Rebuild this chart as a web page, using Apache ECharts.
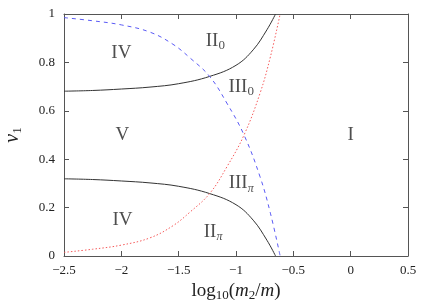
<!DOCTYPE html>
<html><head><meta charset="utf-8">
<script src="https://cdn.jsdelivr.net/npm/echarts@6/dist/echarts.min.js"></script>
<style>html,body{margin:0;padding:0;background:#fff}#c{width:436px;height:305px}</style>
</head><body><div id="c"></div>
<script>
// Black solid boundaries (upper and lower)
const blackUpperX = [-2.5, -2.25, -2.0, -1.75, -1.5, -1.23, -1.0, -0.85, -0.73, -0.655];
const blackUpperY = [0.681, 0.684, 0.690, 0.698, 0.712, 0.742, 0.788, 0.852, 0.935, 1.0];
const blackLowerX = [-2.5, -2.25, -2.0, -1.75, -1.5, -1.23, -1.0, -0.85, -0.73, -0.655];
const blackLowerY = [0.319, 0.316, 0.310, 0.302, 0.288, 0.258, 0.212, 0.148, 0.065, 0.0];
// Blue dashed
const blueX = [-2.5, -2.25, -2.0, -1.75, -1.55, -1.4, -1.23, -1.08, -0.93, -0.79, -0.70, -0.615];
const blueY = [0.985, 0.972, 0.955, 0.925, 0.875, 0.818, 0.742, 0.632, 0.50, 0.327, 0.177, 0.0];
// Red dotted
const redX = [-2.5, -2.25, -2.0, -1.75, -1.55, -1.4, -1.23, -1.08, -0.93, -0.79, -0.70, -0.615];
const redY = [0.015, 0.028, 0.045, 0.075, 0.125, 0.182, 0.258, 0.368, 0.50, 0.673, 0.823, 1.0];
// Region labels
const labelX = [-2.0, -1.18, -0.955, -1.99, 0.0, -0.955, -1.2, -1.99];
const labelY = [0.84, 0.89, 0.70, 0.50, 0.50, 0.30, 0.10, 0.148];
const labelText = ['{m|IV}', '{m|II}{s|0}', '{m|III}{s|0}', '{m|V}', '{m|I}', '{m|III}{p|π}', '{m|II}{p|π}', '{m|IV}'];
// Axis ticks
const xTicks = [-2.5, 0.5, 0.5];   // min, max, interval
const yTicks = [0, 1, 0.2];

const FONT = '"Liberation Serif", "DejaVu Serif", serif';
const pair = (xs, ys) => xs.map((x, i) => [x, ys[i]]);
const minus = v => String(v).replace('-', '\u2212');
const axisCol = '#555';

const richLabel = {
  m: {fontFamily: FONT, fontSize: 19, color: '#222', lineHeight: 22},
  s: {fontFamily: FONT, fontSize: 13, color: '#222', lineHeight: 8, verticalAlign: 'bottom'},
  p: {fontFamily: FONT, fontSize: 12, fontStyle: 'italic', color: '#222', lineHeight: 8, verticalAlign: 'bottom'}
};

const chart = echarts.init(document.getElementById('c'), null, {renderer: 'canvas'});
const baseX = {
  type: 'value', min: xTicks[0], max: xTicks[1], interval: xTicks[2],
  axisLine: {show: true, onZero: false, lineStyle: {color: axisCol, width: 1}},
  axisTick: {show: true, inside: true, length: 5, lineStyle: {color: axisCol}},
  splitLine: {show: false}
};
const baseY = {
  type: 'value', min: yTicks[0], max: yTicks[1], interval: yTicks[2],
  axisLine: {show: true, onZero: false, lineStyle: {color: axisCol, width: 1}},
  axisTick: {show: true, inside: true, length: 5, lineStyle: {color: axisCol}},
  splitLine: {show: false}
};
chart.setOption({
  animation: false,
  grid: {left: 64, right: 28, top: 14, bottom: 49, containLabel: false, outerBoundsMode: 'none'},
  xAxis: [
    Object.assign({}, baseX, {
      position: 'bottom',
      axisLabel: {fontFamily: FONT, fontSize: 13, color: '#222', margin: 8, formatter: minus},
      name: '{n|log}{s|10}{n|(}{i|m}{s|2}{n|/}{i|m}{n|)}',
      nameLocation: 'middle', nameGap: 20,
      nameTextStyle: {rich: {
        n: {fontFamily: FONT, fontSize: 19, color: '#222', lineHeight: 22},
        i: {fontFamily: FONT, fontSize: 19, fontStyle: 'italic', color: '#222', lineHeight: 22},
        s: {fontFamily: FONT, fontSize: 13, color: '#222', lineHeight: 8, verticalAlign: 'bottom'}
      }}
    }),
    Object.assign({}, baseX, {position: 'top', axisLabel: {show: false}})
  ],
  yAxis: [
    Object.assign({}, baseY, {
      position: 'left',
      axisLabel: {fontFamily: FONT, fontSize: 13, color: '#222', margin: 9},
      name: '{i|ν}{s|1}', nameLocation: 'middle', nameGap: 40, nameRotate: 90,
      nameTextStyle: {rich: {
        i: {fontFamily: FONT, fontSize: 20, fontStyle: 'italic', color: '#222', lineHeight: 22},
        s: {fontFamily: FONT, fontSize: 13, color: '#222', lineHeight: 8, verticalAlign: 'bottom'}
      }}
    }),
    Object.assign({}, baseY, {position: 'right', axisLabel: {show: false}})
  ],
  series: [
    {type: 'line', data: pair(blackUpperX, blackUpperY), smooth: 0.4, symbol: 'none',
     lineStyle: {color: '#333', width: 1}},
    {type: 'line', data: pair(blackLowerX, blackLowerY), smooth: 0.4, symbol: 'none',
     lineStyle: {color: '#333', width: 1}},
    {type: 'line', data: pair(blueX, blueY), smooth: 0.4, symbol: 'none',
     lineStyle: {color: '#5a5af5', width: 1, type: [4, 4]}},
    {type: 'line', data: pair(redX, redY), smooth: 0.4, symbol: 'none',
     lineStyle: {color: '#f55a5a', width: 1, type: [1.5, 2]}},
    {type: 'scatter', symbolSize: 0, silent: true,
     data: labelX.map((x, i) => [x, labelY[i], labelText[i]]),
     label: {show: true, position: 'inside', formatter: p => p.data[2], rich: richLabel}}
  ]
});
</script></body></html>
